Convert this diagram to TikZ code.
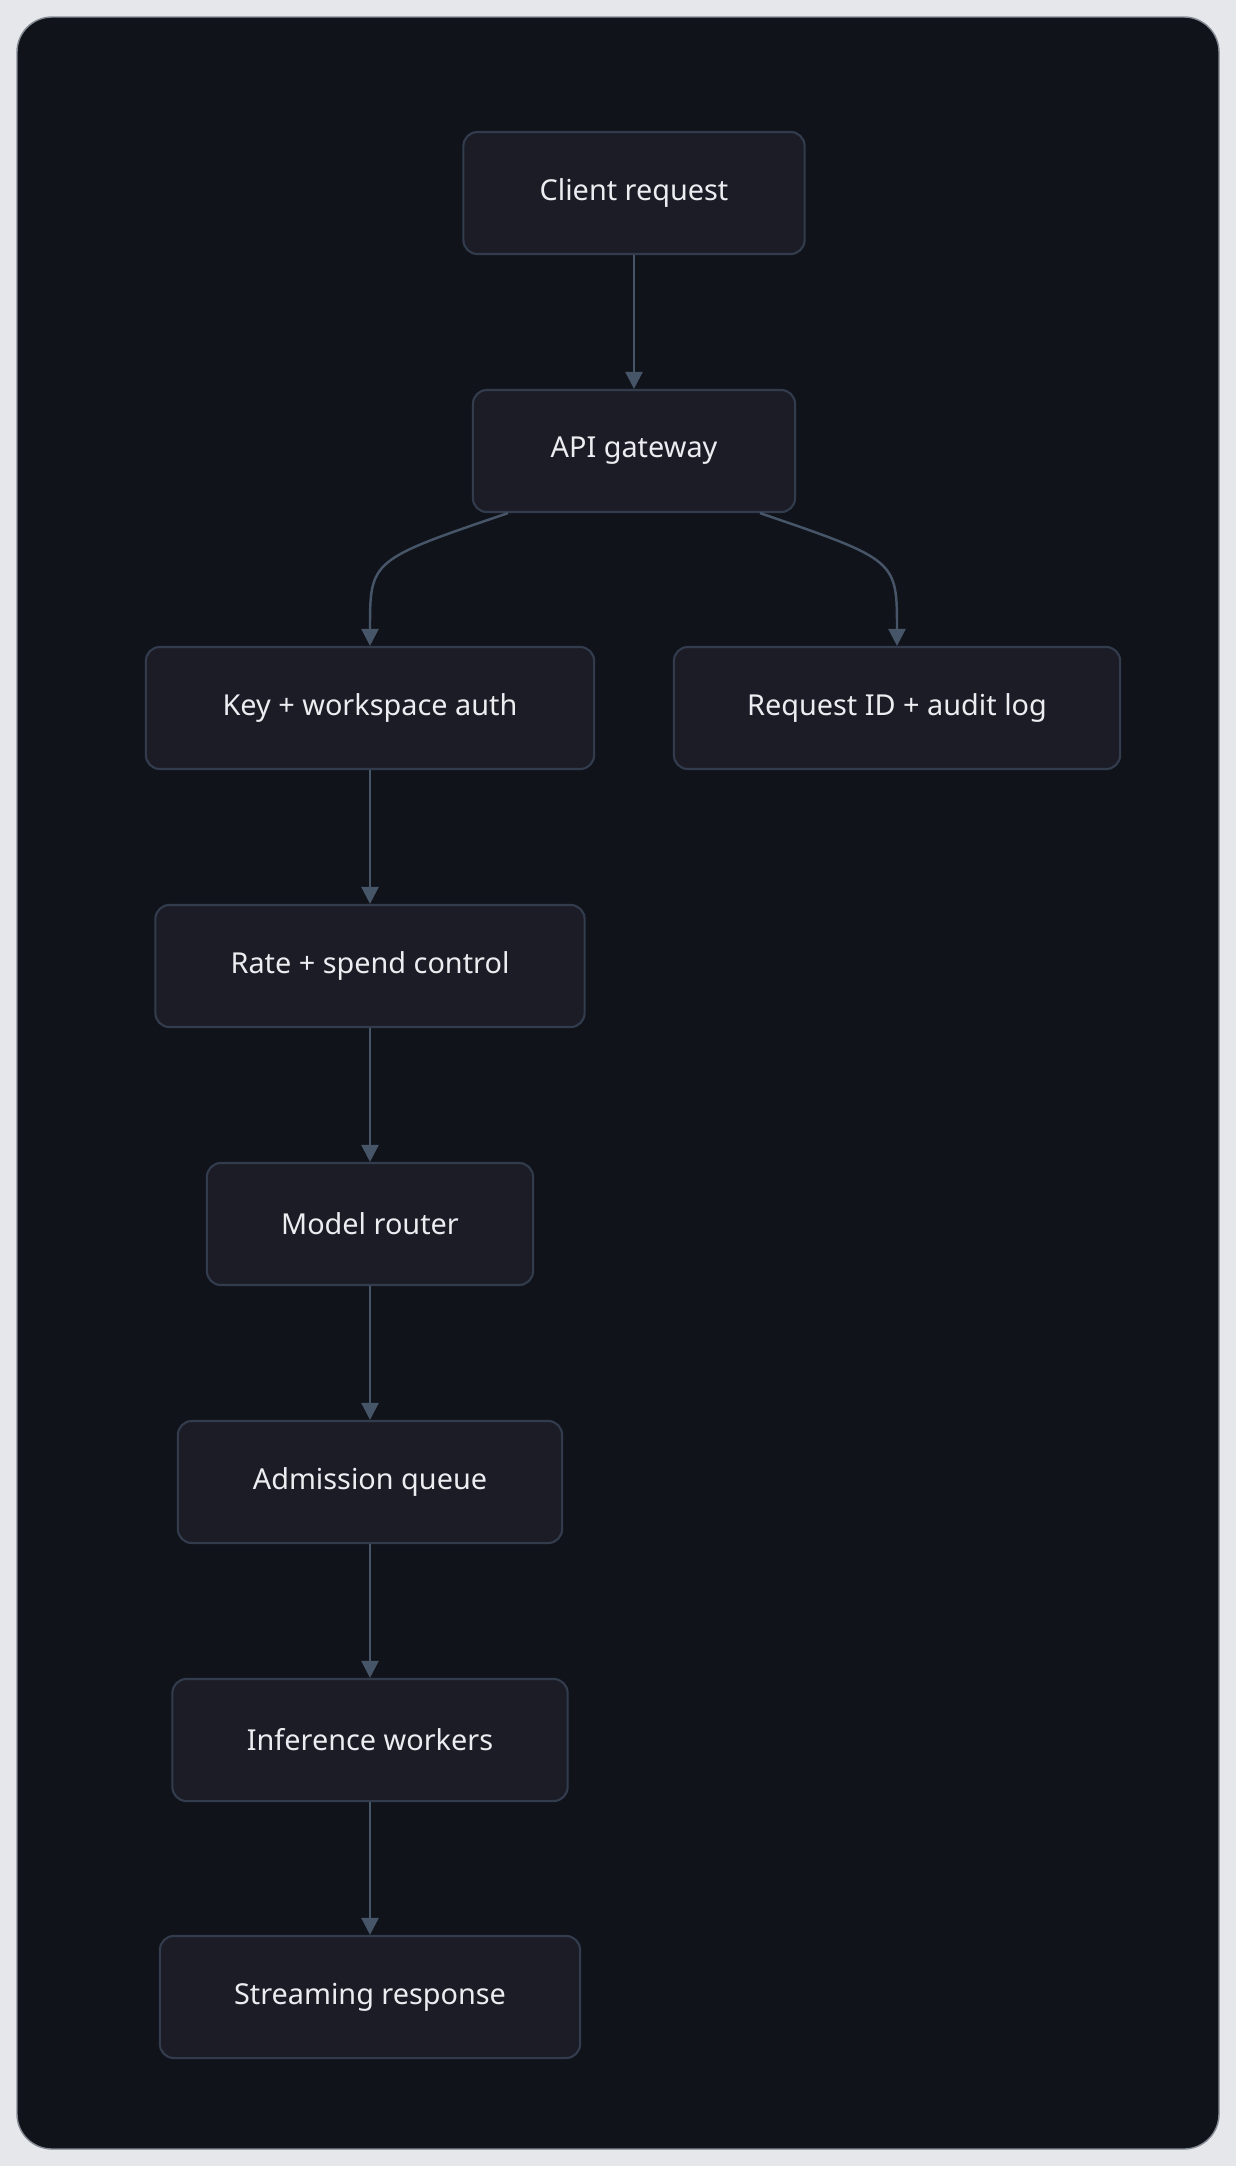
\documentclass[tikz,border=0pt]{standalone}
\usepackage{fontspec}
\setmainfont{Noto Sans}
\usetikzlibrary{positioning,calc,arrows.meta}
\definecolor{pagebg}{HTML}{E6E7EA}
\definecolor{framebg}{HTML}{11131A}
\definecolor{boxbg}{HTML}{1C1C27}
\definecolor{boxline}{HTML}{323C4D}
\definecolor{linkcol}{HTML}{475569}
\definecolor{txtcol}{HTML}{ECEDF0}
\tikzset{
  stage/.style = {draw = boxline, fill = boxbg, rounded corners = 0.14cm, line width = 0.6pt,
    minimum height = 1.22cm, text = txtcol, font = \fontsize{8.2}{10}\selectfont},
  link/.style = {draw = linkcol, line width = 0.7pt, -{Triangle[length = 0.17cm, width = 0.17cm]}}
}
\begin{document}
\begin{tikzpicture}[x = 0.01cm, y = -0.01cm]
      \fill [pagebg] (0,0) rectangle (1236,2166);
      \fill [framebg, draw = boxline!60, rounded corners = 0.35cm] (17,17) rectangle (1219,2149);
      \node [stage, minimum width = 3.41cm] (client) at (634,193) {Client request};
      \node [stage, minimum width = 3.22cm] (gateway) at (634,451) {API gateway};
      \node [stage, minimum width = 4.48cm] (auth) at (370,708) {Key + workspace auth};
      \node [stage, minimum width = 4.46cm] (audit) at (897,708) {Request ID + audit log};
      \node [stage, minimum width = 4.29cm] (rate) at (370,966) {Rate + spend control};
      \node [stage, minimum width = 3.26cm] (router) at (370,1224) {Model router};
      \node [stage, minimum width = 3.84cm] (queue) at (370,1482) {Admission queue};
      \node [stage, minimum width = 3.95cm] (workers) at (370,1740) {Inference workers};
      \node [stage, minimum width = 4.20cm] (stream) at (370,1997) {Streaming response};
      \draw [link] (client) -- (gateway);
      \draw [link] ($(gateway.south)+(-126,0)$) .. controls (370,560) .. (auth.north);
      \draw [link] ($(gateway.south)+(126,0)$) .. controls (897,560) .. (audit.north);
      \foreach \a/\b in {auth/rate, rate/router, router/queue, queue/workers, workers/stream}{
        \draw [link] (\a) -- (\b);
      }
\end{tikzpicture}
\end{document}
